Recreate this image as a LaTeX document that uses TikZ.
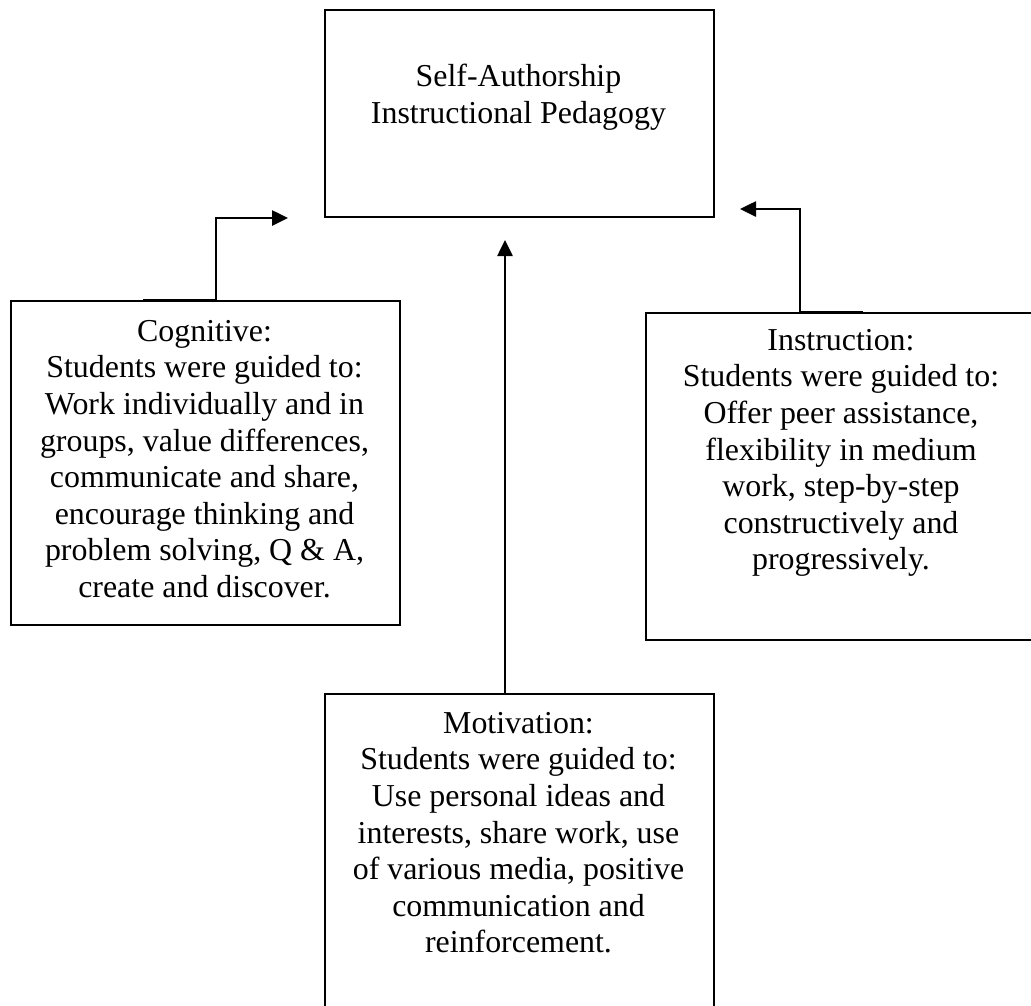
\documentclass[tikz,border=0pt]{standalone}
\usepackage{fontspec}
\setmainfont{Liberation Serif}
\usetikzlibrary{arrows.meta,calc}
\begin{document}
\begin{tikzpicture}[x=1pt,y=-1pt,
  box/.style={draw, line width=2pt, inner sep=0pt, anchor=north west},
  txt/.style={align=center, inner sep=0pt, anchor=north,
    font=\fontsize{31.9pt}{36.6pt}\selectfont},
  conn/.style={line width=2.6pt},
  arr/.style={conn, -{Triangle[length=16pt,width=15pt]}}]
\useasboundingbox (0,0) rectangle (1031,1005);
\clip (0,0) rectangle (1031,1005);

% boxes
\node[box, minimum width=389pt, minimum height=207pt] (top) at (324,9) {};
\node[box, minimum width=389pt, minimum height=324pt] (cog) at (10,300) {};
\node[box, minimum width=392pt, minimum height=327pt] (ins) at (645,312) {};
\node[box, minimum width=389pt, minimum height=320pt] (mot) at (324,693) {};

% box texts
\node[txt] (toptext) at (518.5,60.9)
  {\strut Self-Authorship\\Instructional Pedagogy};
\node[txt] (cogtext) at (204.5,315.4)
  {\strut Cognitive:\\Students were guided to:\\Work individually and in\\groups, value differences,\\communicate and share,\\encourage thinking and\\problem solving, Q \& A,\\create and discover.};
\node[txt] (instext) at (841,324.4)
  {\strut Instruction:\\Students were guided to:\\Offer peer assistance,\\flexibility in medium\\work, step-by-step\\constructively and\\progressively.};
\node[txt] (mottext) at (518.5,707.4)
  {\strut Motivation:\\Students were guided to:\\Use personal ideas and\\interests, share work, use\\of various media, positive\\communication and\\reinforcement.};

% connector end points
\coordinate (cogA) at ($(cog.north west)+(133,0)$);
\coordinate (cogB) at ($(cog.north west)+(206,0)$);
\coordinate (topL) at ($(top.south west)+(-36,0)$);
\coordinate (motA) at ($(mot.north west)+(181,0)$);
\coordinate (topB) at ($(top.south west)+(181,22)$);
\coordinate (insA) at ($(ins.north west)+(218,0)$);
\coordinate (insB) at ($(ins.north west)+(155,0)$);
\coordinate (topR) at ($(top.south east)+(25,-9)$);

% connectors
\draw[arr] (cogA) -- (cogB) |- (topL);
\draw[arr] (motA) -- (topB);
\draw[arr] (insA) -- (insB) |- (topR);
\end{tikzpicture}
\end{document}
